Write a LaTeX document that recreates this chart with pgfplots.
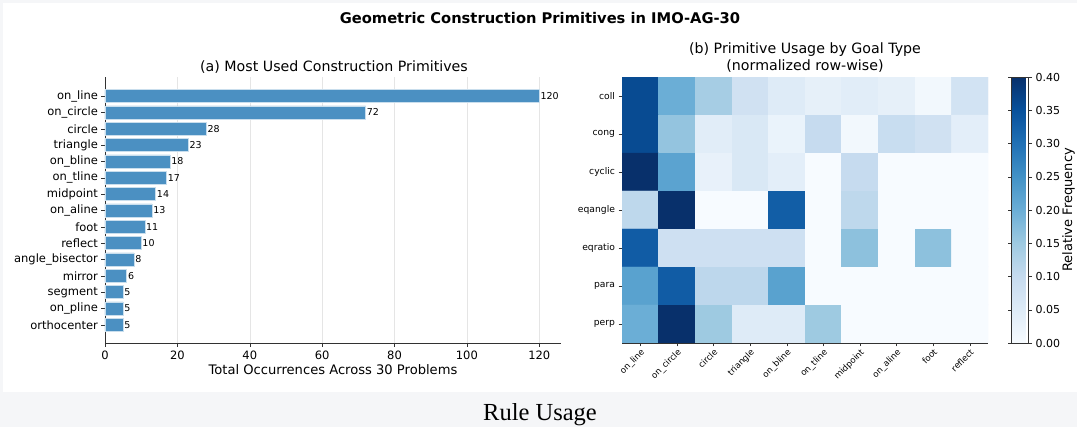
\documentclass[border=0pt]{standalone}
\usepackage{fontspec}
\setmainfont{DejaVu Sans}
\newfontfamily\capfont{Liberation Serif}
\usepackage{pgfplots}
\pgfplotsset{compat=1.18}
\definecolor{barblue}{RGB}{75,144,194}
\definecolor{bgray}{RGB}{245,246,248}
\definecolor{spine}{RGB}{50,50,50}
\pgfplotsset{
  colormap={mblues}{rgb255=(247,251,255) rgb255=(222,235,247) rgb255=(198,219,239) rgb255=(158,202,225) rgb255=(107,174,214) rgb255=(66,146,198) rgb255=(33,113,181) rgb255=(8,81,156) rgb255=(8,48,107)}
}
\begin{document}
\begin{tikzpicture}[x=1pt,y=1pt]
\useasboundingbox (0,0) rectangle (1077,427);
\fill[bgray] (0,0) rectangle (1077,427);
\fill[white] (3,35) rectangle (1077,424);
\node[font=\bfseries\fontsize{14.7}{17}\selectfont] at (540,409) {Geometric Construction Primitives in IMO-AG-30};
\node[font=\fontsize{14.2}{16}\selectfont] at (334,360) {(a) Most Used Construction Primitives};
\node[font=\fontsize{14.2}{16}\selectfont] at (805,377) {(b) Primitive Usage by Goal Type};
\node[font=\fontsize{14.2}{16}\selectfont] at (805,361) {(normalized row-wise)};
\node[font=\capfont\fontsize{24.5}{27}\selectfont] at (540,12) {Rule Usage};

\begin{axis}[
  at={(105pt,83.5pt)}, anchor=south west,
  scale only axis, width=456pt, height=266pt,
  xmin=0, xmax=126, ymin=-1.14, ymax=15.14, y dir=reverse,
  axis x line*=bottom, axis y line*=left,
  axis line style={spine, -},
  tick align=outside, major tick length=3.5pt,
  tick style={spine},
  xtick={0,20,40,60,80,100,120},
  ytick={0,...,14},
  yticklabels={on\_line,on\_circle,circle,triangle,on\_bline,on\_tline,midpoint,on\_aline,foot,reflect,angle\_bisector,mirror,segment,on\_pline,orthocenter},
  xmajorgrids, grid style={black!10},
  ticklabel style={font=\fontsize{11.5}{13}\selectfont},
  /pgf/number format/assume math mode=true,
  xlabel={Total Occurrences Across 30 Problems},
  xlabel style={font=\fontsize{13.1}{15}\selectfont, yshift=2pt},
]
\addplot[xbar, bar width=0.8, fill=barblue, draw=white!70!barblue, line width=0.6pt,
  point meta=x, nodes near coords,
  nodes near coords style={font=\fontsize{9.5}{10}\selectfont, anchor=west, inner sep=1pt, /pgf/number format/assume math mode=true}]
 coordinates {(120,0) (72,1) (28,2) (23,3) (18,4) (17,5) (14,6) (13,7) (11,8) (10,9) (8,10) (6,11) (5,12) (5,13) (5,14)};
\end{axis}

\begin{axis}[
  at={(622pt,84pt)}, anchor=south west,
  scale only axis, width=366pt, height=266pt,
  xmin=-0.5, xmax=9.5, ymin=-0.5, ymax=6.5, y dir=reverse,
  enlargelimits=false,
  axis x line*=bottom, axis y line*=left,
  axis line style={spine, -},
  tick align=outside, major tick length=3.5pt,
  tick style={spine},
  colormap name=mblues,
  point meta min=0, point meta max=0.4,
  xtick={0,...,9}, ytick={0,...,6},
  xticklabels={on\_line,on\_circle,circle,triangle,on\_bline,on\_tline,midpoint,on\_aline,foot,reflect},
  yticklabels={coll,cong,cyclic,eqangle,eqratio,para,perp},
  xticklabel style={font=\fontsize{8.6}{9}\selectfont, rotate=45, anchor=north east, inner sep=1pt},
  yticklabel style={font=\fontsize{9.2}{10}\selectfont},
  /pgf/number format/assume math mode=true,
  colorbar,
  colorbar style={
    at={(parent axis.north east)}, anchor=north west, xshift=15pt,
    scale only axis, width=17pt, height=266pt,
    ytick={0,0.05,0.1,0.15,0.2,0.25,0.3,0.35,0.4},
    yticklabel style={font=\fontsize{11}{13}\selectfont, /pgf/number format/.cd, fixed, fixed zerofill, precision=2, assume math mode=true},
    axis line style={spine}, tick style={spine}, major tick length=3.5pt, tick align=outside,
    ylabel={Relative Frequency},
    ylabel style={font=\fontsize{13}{15}\selectfont, at={(axis description cs:1,0.5)}, anchor=center, yshift=-40pt},
  },
]
\addplot[matrix plot*, mesh/cols=10, point meta=explicit] table[meta=c] {
x y c
0 0 0.36
1 0 0.20
2 0 0.14
3 0 0.08
4 0 0.05
5 0 0.035
6 0 0.045
7 0 0.035
8 0 0.01
9 0 0.075
0 1 0.36
1 1 0.16
2 1 0.045
3 1 0.06
4 1 0.025
5 1 0.10
6 1 0.01
7 1 0.095
8 1 0.08
9 1 0.04
0 2 0.40
1 2 0.22
2 2 0.03
3 2 0.06
4 2 0.04
5 2 0.0
6 2 0.10
7 2 0.0
8 2 0.0
9 2 0.0
0 3 0.11
1 3 0.40
2 3 0.0
3 3 0.0
4 3 0.33
5 3 0.0
6 3 0.11
7 3 0.0
8 3 0.0
9 3 0.0
0 4 0.333
1 4 0.083
2 4 0.083
3 4 0.083
4 4 0.083
5 4 0.0
6 4 0.167
7 4 0.0
8 4 0.167
9 4 0.0
0 5 0.222
1 5 0.333
2 5 0.111
3 5 0.111
4 5 0.222
5 5 0.0
6 5 0.0
7 5 0.0
8 5 0.0
9 5 0.0
0 6 0.20
1 6 0.40
2 6 0.15
3 6 0.05
4 6 0.05
5 6 0.15
6 6 0.0
7 6 0.0
8 6 0.0
9 6 0.0
};
\end{axis}
\end{tikzpicture}
\end{document}
